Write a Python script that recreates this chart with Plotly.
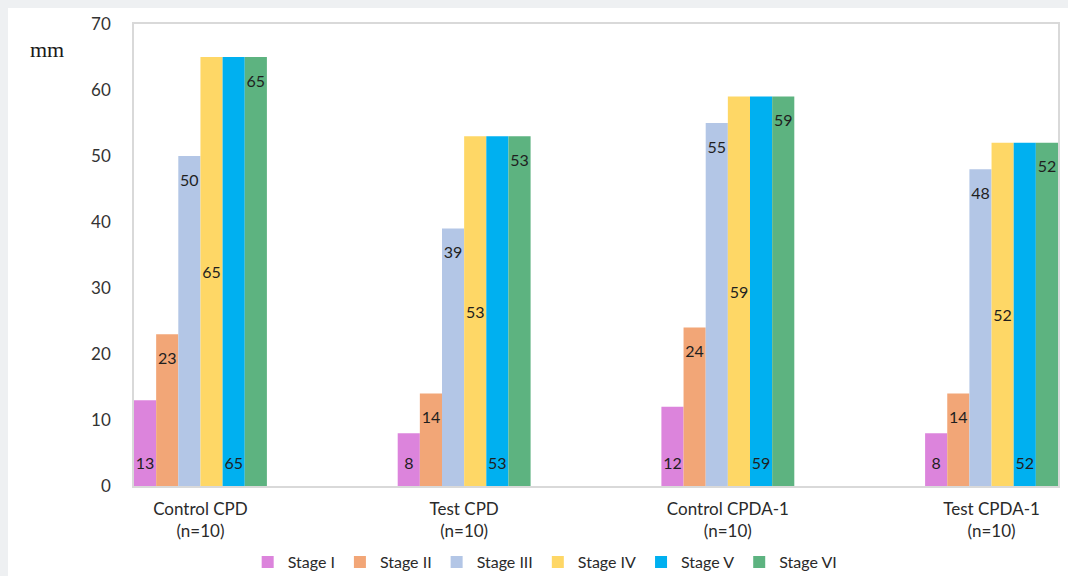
import plotly.graph_objects as go

categories = ["Control CPD<br>(n=10)", "Test CPD<br>(n=10)", "Control CPDA-1<br>(n=10)", "Test CPDA-1<br>(n=10)"]
stages = ["Stage I", "Stage II", "Stage III", "Stage IV", "Stage V", "Stage VI"]
stage_i = [13, 8, 12, 8]
stage_ii = [23, 14, 24, 14]
stage_iii = [50, 39, 55, 48]
stage_iv = [65, 53, 59, 52]
stage_v = [65, 53, 59, 52]
stage_vi = [65, 53, 59, 52]
series = [stage_i, stage_ii, stage_iii, stage_iv, stage_v, stage_vi]
colors = ["#dc84dc", "#f2a677", "#b3c6e6", "#fed766", "#00b0f0", "#5db380"]
anchors = ["start", "end", "end", "middle", "start", "end"]
PAD = 1.6  # label inset, in axis units

W, H = 1068, 576
L, R, T, B = 134, 10, 24, 90
pw, ph = W - L - R, H - T - B
xs = list(range(len(categories)))
label_font = dict(family="Lato, Open Sans, sans-serif", size=16, color="#1f1f1f")

fig = go.Figure()
for k, (name, vals, col, anc) in enumerate(zip(stages, series, colors, anchors)):
    fig.add_trace(go.Bar(
        name=name, x=xs, y=vals, offsetgroup=str(k),
        marker=dict(color=col, line=dict(width=0)),
        text=[str(v) for v in vals] if anc == "middle" else None,
        textposition="inside", insidetextanchor="middle", textangle=0,
        textfont=label_font, constraintext="none", hoverinfo="x+y+name",
    ))
for k, (name, vals, anc) in enumerate(zip(stages, series, anchors)):
    if anc == "middle":
        continue
    if anc == "start":
        base = [PAD] * len(vals)
        heights = [v - PAD for v in vals]
    else:
        base = [0] * len(vals)
        heights = [v - PAD for v in vals]
    fig.add_trace(go.Bar(
        name=name + " label", x=xs, y=heights, base=base, offsetgroup=str(k),
        marker=dict(color="rgba(0,0,0,0)", line=dict(width=0)),
        text=[str(v) for v in vals], textposition="inside",
        insidetextanchor=anc, textangle=0, textfont=label_font,
        constraintext="none", showlegend=False, hoverinfo="skip",
    ))

fig.update_layout(
    width=W, height=H,
    margin=dict(l=L, r=R, t=T, b=B, autoexpand=False),
    paper_bgcolor="#eef0f2",
    plot_bgcolor="white",
    barmode="group", bargap=0.496, bargroupgap=0,
    font=dict(family="Lato, Open Sans, sans-serif", color="#333333"),
    xaxis=dict(
        range=[-0.252, 3.252], tickmode="array",
        tickvals=xs, ticktext=categories,
        showgrid=False, showline=True, linecolor="#d9d9d9", linewidth=1.5, mirror=True,
        ticks="", tickfont=dict(size=17, color="#2a2a2a"), zeroline=False,
        automargin=False, ticklabelstandoff=7,
    ),
    yaxis=dict(
        range=[0, 70], dtick=10, showgrid=False, showline=True,
        linecolor="#d9d9d9", linewidth=1.5, mirror=True, ticks="",
        tickfont=dict(size=17, color="#333333"), zeroline=False,
        ticklabelstandoff=18, automargin=False,
    ),
    legend=dict(
        orientation="h", x=0.445, xanchor="center",
        y=-(562 - (H - B)) / ph, yanchor="middle",
        font=dict(size=16, color="#2a2a2a"), bgcolor="rgba(0,0,0,0)",
        itemwidth=30, tracegroupgap=0,
    ),
    shapes=[dict(
        type="rect", xref="paper", yref="paper", layer="below",
        x0=(8 - L) / pw, x1=1 + 20 / pw, y0=-(B + 20) / ph, y1=1 + (T - 8) / ph,
        fillcolor="white", line=dict(width=0),
    )],
    annotations=[dict(
        text="mm", xref="paper", yref="paper", x=(47 - L) / pw, y=1 - (50 - T) / ph,
        showarrow=False, xanchor="center", yanchor="middle",
        font=dict(family="Liberation Serif, serif", size=22, color="#1a1a1a"),
    )],
)

fig.write_html(
    "out.html",
    config={"displayModeBar": False},
    post_script="document.body.style.margin='0';document.body.style.overflow='hidden';",
)
